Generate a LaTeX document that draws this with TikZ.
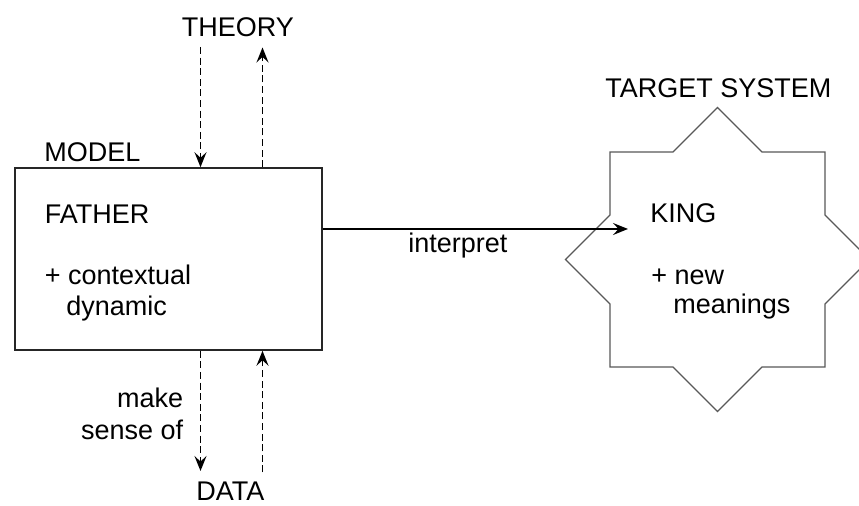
\documentclass[tikz,border=0pt]{standalone}
\usepackage{fontspec}
\setmainfont{Liberation Sans}
\usetikzlibrary{arrows.meta}
\begin{document}
\begin{tikzpicture}[x=0.5pt,y=-0.5pt,
  lbl/.style={inner sep=0pt, font=\fontsize{13.5}{16}\selectfont},
  tipstyle/.style={-{Stealth[length=7.5pt,width=6pt,inset=2.8pt]}},
  dasharrow/.style={tipstyle, dash pattern=on 3.5pt off 1.8pt, line width=0.8pt},
  boxstyle/.style={draw=black!85, line width=0.8pt, minimum width=153.5pt, minimum height=91pt, inner sep=0pt},
  starline/.style={draw=black!65, line width=0.55pt}]
\clip (0,0) rectangle (859,506);
\fill[white] (0,0) rectangle (859,506);
% model box
\node[boxstyle] (model) at (168.5,259) {};
% star target system
\draw[starline] (717.5,107.5) -- (762,152) -- (825,152) -- (825,215) -- (869.5,259.5)
  -- (825,304) -- (825,367) -- (762,367) -- (717.5,411.5) -- (673,367) -- (610,367)
  -- (610,304) -- (565.5,259.5) -- (610,215) -- (610,152) -- (673,152) -- cycle;
\coordinate (target) at (717.5,259.5);
% labels
\node[lbl, anchor=base west] (theory) at (181.5,37) {THEORY};
\node[lbl, anchor=base west] (modellbl) at (44,162) {MODEL};
\node[lbl, anchor=base west] (father) at (44.5,223.5) {FATHER};
\node[lbl, anchor=base west] (context) at (44.5,284.5) {+ contextual};
\node[lbl, anchor=base west] (dynamic) at (66,316) {dynamic};
\node[lbl, anchor=base west] (interp) at (408,253) {interpret};
\node[lbl, anchor=base west] (tslbl) at (605,97.5) {TARGET SYSTEM};
\node[lbl, anchor=base west] (king) at (650,222.5) {KING};
\node[lbl, anchor=base west] (new) at (651,285) {+ new};
\node[lbl, anchor=base west] (meanings) at (673,314) {meanings};
\node[lbl, anchor=base east] (make) at (183.5,408) {make};
\node[lbl, anchor=base east] (sense) at (183.5,440) {sense of};
\node[lbl, anchor=base west] (data) at (196,501) {DATA};
% arrow endpoints
\coordinate (tdown) at (200.5,47);
\coordinate (tup) at (262.5,47.5);
\coordinate (ddown) at (200.5,471);
\coordinate (dup) at (262.5,472.5);
\coordinate (intEnd) at (628,229);
% connectors
\draw[dasharrow] (tdown) -- (tdown |- model.north);
\draw[dasharrow] (tup |- model.north) -- (tup);
\draw[dasharrow] (ddown |- model.south) -- (ddown);
\draw[dasharrow] (dup) -- (dup |- model.south);
\draw[tipstyle, line width=0.7pt] (model.east |- intEnd) -- (intEnd);
\end{tikzpicture}
\end{document}
